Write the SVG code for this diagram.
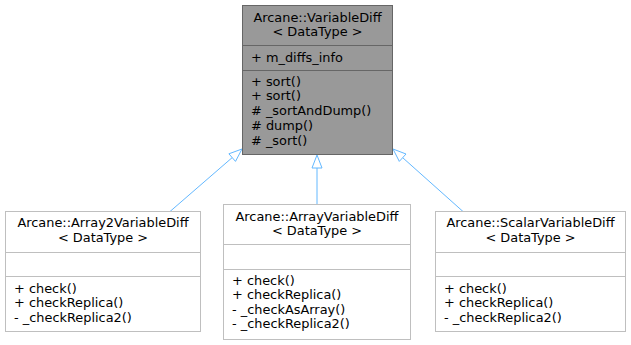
<svg xmlns="http://www.w3.org/2000/svg" width="631" height="345" viewBox="0 0 631 345">
  <style>
    text { font-family: "DejaVu Sans", "Noto Sans", sans-serif; font-size: 12.9px; fill: #000; }
    .c { text-anchor: middle; }
    .base rect { fill: #999999; stroke: #666666; stroke-width: 1; }
    .base line { stroke: #666666; stroke-width: 1; }
    .derived rect { fill: #ffffff; stroke: #bfbfbf; stroke-width: 1; }
    .derived line { stroke: #bfbfbf; stroke-width: 1; }
    .edge { stroke: #63b8ff; stroke-width: 1; fill: none; }
    .head { stroke: #63b8ff; stroke-width: 1; fill: #ffffff; }
  </style>
  <rect width="631" height="345" fill="#ffffff"/>

  <!-- inheritance connectors -->
  <g id="connectors">
    <line class="edge" x1="170" y1="211.5" x2="232.2" y2="157.6"/>
    <polygon class="head" points="242,149 235.5,161.4 228.9,153.8"/>
    <line class="edge" x1="317" y1="204.5" x2="317" y2="168"/>
    <polygon class="head" points="317,155 322,168 312,168"/>
    <line class="edge" x1="463" y1="211.5" x2="402.7" y2="157.7"/>
    <polygon class="head" points="393,149 406,154 399.3,161.4"/>
  </g>

  <!-- base class -->
  <g id="VariableDiff" class="base">
    <rect x="242.5" y="5.5" width="150" height="149"/>
    <line x1="242.5" y1="45.5" x2="392.5" y2="45.5"/>
    <line x1="242.5" y1="70.5" x2="392.5" y2="70.5"/>
    <text class="c" x="317.5" y="21.5">Arcane::VariableDiff</text>
    <text class="c" x="317.5" y="36">&lt; DataType &gt;</text>
    <text x="251" y="61.5">+ m_diffs_info</text>
    <text x="251" y="85.5">+ sort()</text>
    <text x="251" y="100.3">+ sort()</text>
    <text x="251" y="115.1"># _sortAndDump()</text>
    <text x="251" y="129.9"># dump()</text>
    <text x="251" y="144.7"># _sort()</text>
  </g>

  <!-- derived classes -->
  <g id="Array2VariableDiff" class="derived">
    <rect x="5.5" y="211.5" width="195" height="120"/>
    <line x1="5.5" y1="252.5" x2="200.5" y2="252.5"/>
    <line x1="5.5" y1="276.5" x2="200.5" y2="276.5"/>
    <text class="c" x="103" y="227.3">Arcane::Array2VariableDiff</text>
    <text class="c" x="103" y="241.7">&lt; DataType &gt;</text>
    <text x="14" y="293">+ check()</text>
    <text x="14" y="307.3">+ checkReplica()</text>
    <text x="14" y="321.5">- _checkReplica2()</text>
  </g>

  <g id="ArrayVariableDiff" class="derived">
    <rect x="223.5" y="204.5" width="187" height="135"/>
    <line x1="223.5" y1="244.5" x2="410.5" y2="244.5"/>
    <line x1="223.5" y1="269.5" x2="410.5" y2="269.5"/>
    <text class="c" x="317" y="221">Arcane::ArrayVariableDiff</text>
    <text class="c" x="317" y="235.2">&lt; DataType &gt;</text>
    <text x="232" y="285.2">+ check()</text>
    <text x="232" y="299.4">+ checkReplica()</text>
    <text x="232" y="313.6">- _checkAsArray()</text>
    <text x="232" y="327.8">- _checkReplica2()</text>
  </g>

  <g id="ScalarVariableDiff" class="derived">
    <rect x="435.5" y="211.5" width="190" height="120"/>
    <line x1="435.5" y1="252.5" x2="625.5" y2="252.5"/>
    <line x1="435.5" y1="276.5" x2="625.5" y2="276.5"/>
    <text class="c" x="530.5" y="227.3">Arcane::ScalarVariableDiff</text>
    <text class="c" x="530.5" y="241.7">&lt; DataType &gt;</text>
    <text x="444" y="293">+ check()</text>
    <text x="444" y="307.3">+ checkReplica()</text>
    <text x="444" y="321.5">- _checkReplica2()</text>
  </g>
</svg>
